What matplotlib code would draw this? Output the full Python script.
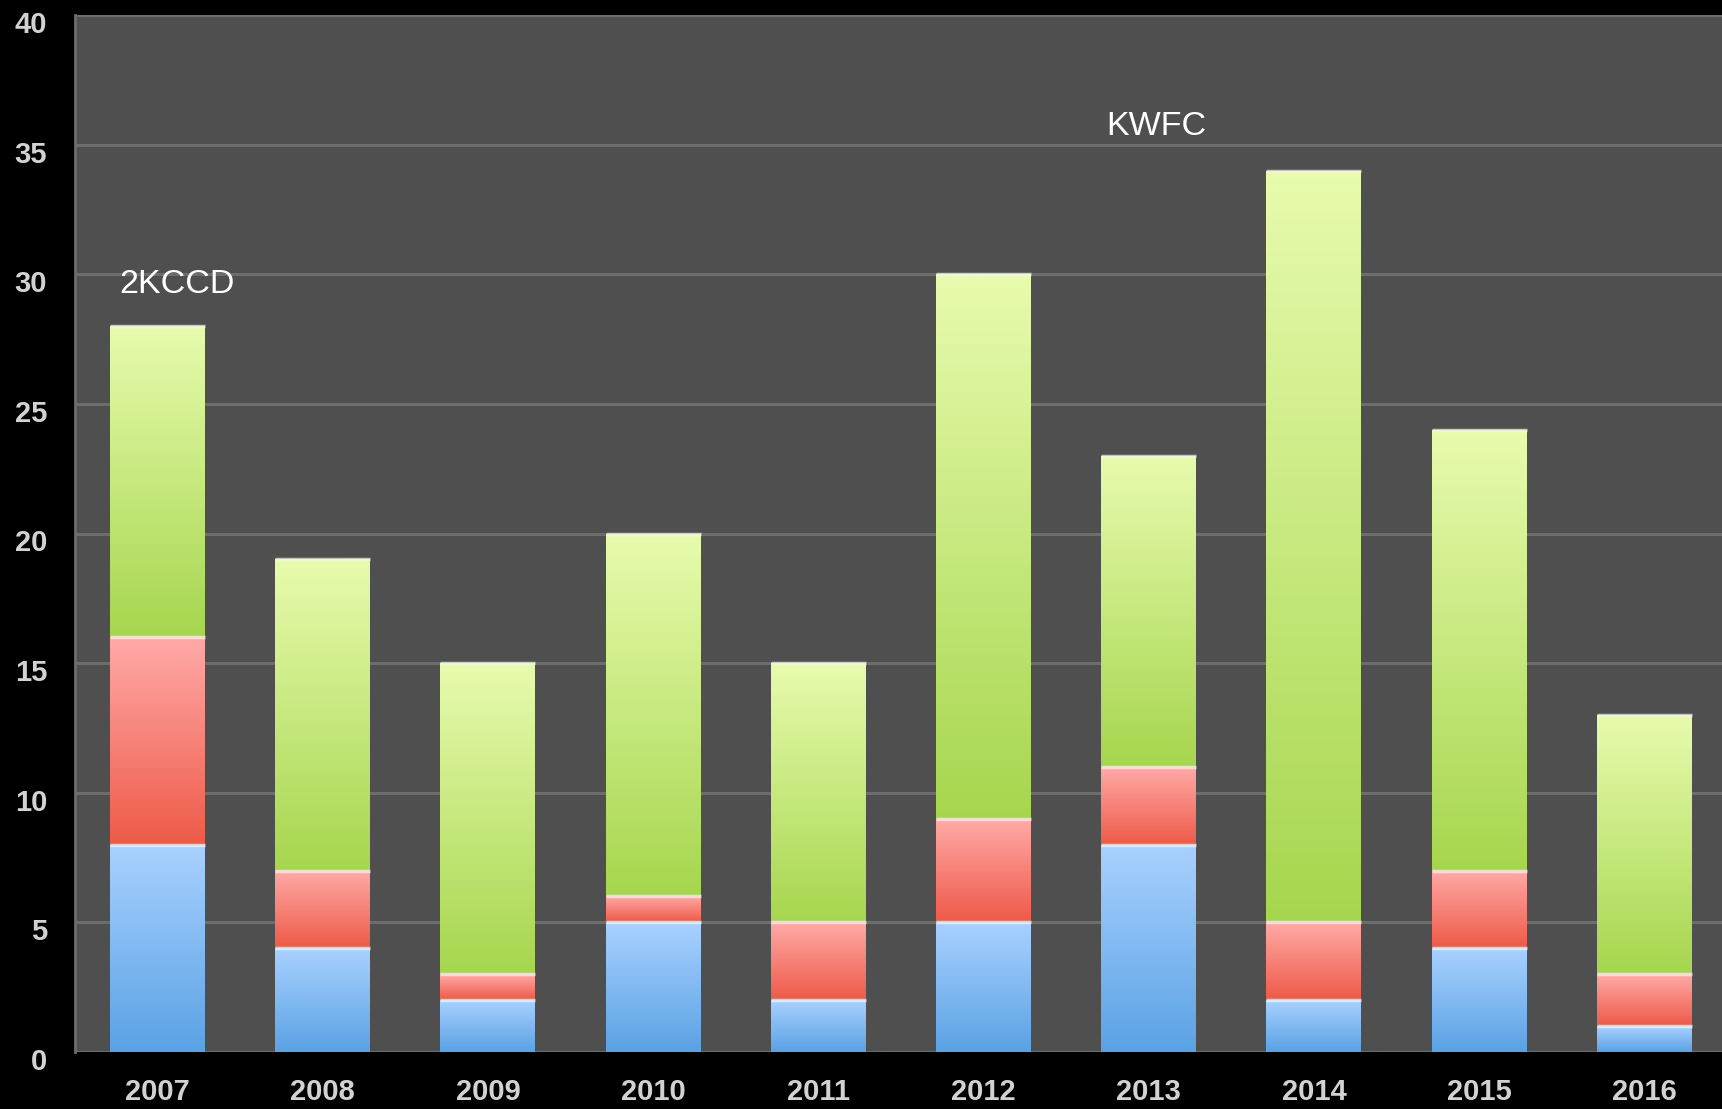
import numpy as np
import matplotlib
matplotlib.use("Agg")
import matplotlib.pyplot as plt
from matplotlib.colors import LinearSegmentedColormap
from matplotlib.transforms import ScaledTranslation

years = ["2007", "2008", "2009", "2010", "2011", "2012", "2013", "2014", "2015", "2016"]
blue = [8, 4, 2, 5, 2, 5, 8, 2, 4, 1]
red = [8, 3, 1, 1, 3, 4, 3, 3, 3, 2]
green = [12, 12, 12, 14, 10, 21, 12, 29, 17, 10]

notes = ["2KCCD", "KWFC"]
note_x = [-0.23, 5.74]
note_y = [29.6, 35.7]

# (bottom colour, top colour) for each segment's vertical gradient
grads = [("#5aa2e4", "#a9d1ff"),
         ("#ee5a48", "#ffaaa8"),
         ("#a6d64e", "#e8fbae")]

fig = plt.figure(figsize=(17.22, 11.09), dpi=100, facecolor="black")
ax = fig.add_axes([75/1722, 57/1109, 1 - 75/1722, (1052 - 15)/1109])
ax.set_facecolor("#4f4f4f")

x = np.arange(len(years))
w = 0.575
grad = np.linspace(0, 1, 256).reshape(-1, 1)

bottom = np.zeros(len(years))
for vals, (c0, c1) in zip([blue, red, green], grads):
    vals = np.array(vals, dtype=float)
    bars = ax.bar(x, vals, w, bottom=bottom, color="none", edgecolor="none", zorder=3)
    cmap = LinearSegmentedColormap.from_list("g", [c0, c1])
    for b in bars:
        x0, y0 = b.get_x(), b.get_y()
        im = ax.imshow(grad, cmap=cmap, origin="lower", aspect="auto",
                       extent=[x0, x0 + b.get_width(), y0, y0 + b.get_height()],
                       zorder=3, interpolation="bilinear")
        im.set_clip_path(b)
    # light rim at the top of each segment
    ax.hlines(bottom + vals, x - w/2, x + w/2, colors="#f4f4ee", linewidth=2.5, alpha=0.7, zorder=4)
    bottom += vals

for t, tx, ty in zip(notes, note_x, note_y):
    ax.text(tx, ty, t, color="white", fontsize=24.5, family="Liberation Sans",
            ha="left", va="center", zorder=5)

ax.set_xlim(-0.5, 9.47)
ax.set_ylim(0, 40)
ax.set_yticks(range(0, 41, 5))
ax.set_xticks(x)
ax.set_xticklabels(years)
ax.yaxis.grid(True, color="#6d6d6d", linewidth=2.2, zorder=1)
ax.set_axisbelow(True)
for s in ["top", "right", "bottom"]:
    ax.spines[s].set_visible(False)
ax.spines["left"].set_color("#6d6d6d")
ax.spines["left"].set_linewidth(2)
ax.tick_params(length=0, colors="#d2d2d2", labelsize=21)
ax.tick_params(axis="y", pad=20)
ax.tick_params(axis="x", pad=19)
shift = ScaledTranslation(0, -5/72, fig.dpi_scale_trans)
for lab in ax.get_yticklabels():
    lab.set_transform(lab.get_transform() + shift)
for lab in ax.get_xticklabels() + ax.get_yticklabels():
    lab.set_family("Liberation Sans")
    lab.set_fontweight("bold")

fig.savefig("out.png", dpi=100, facecolor="black")
